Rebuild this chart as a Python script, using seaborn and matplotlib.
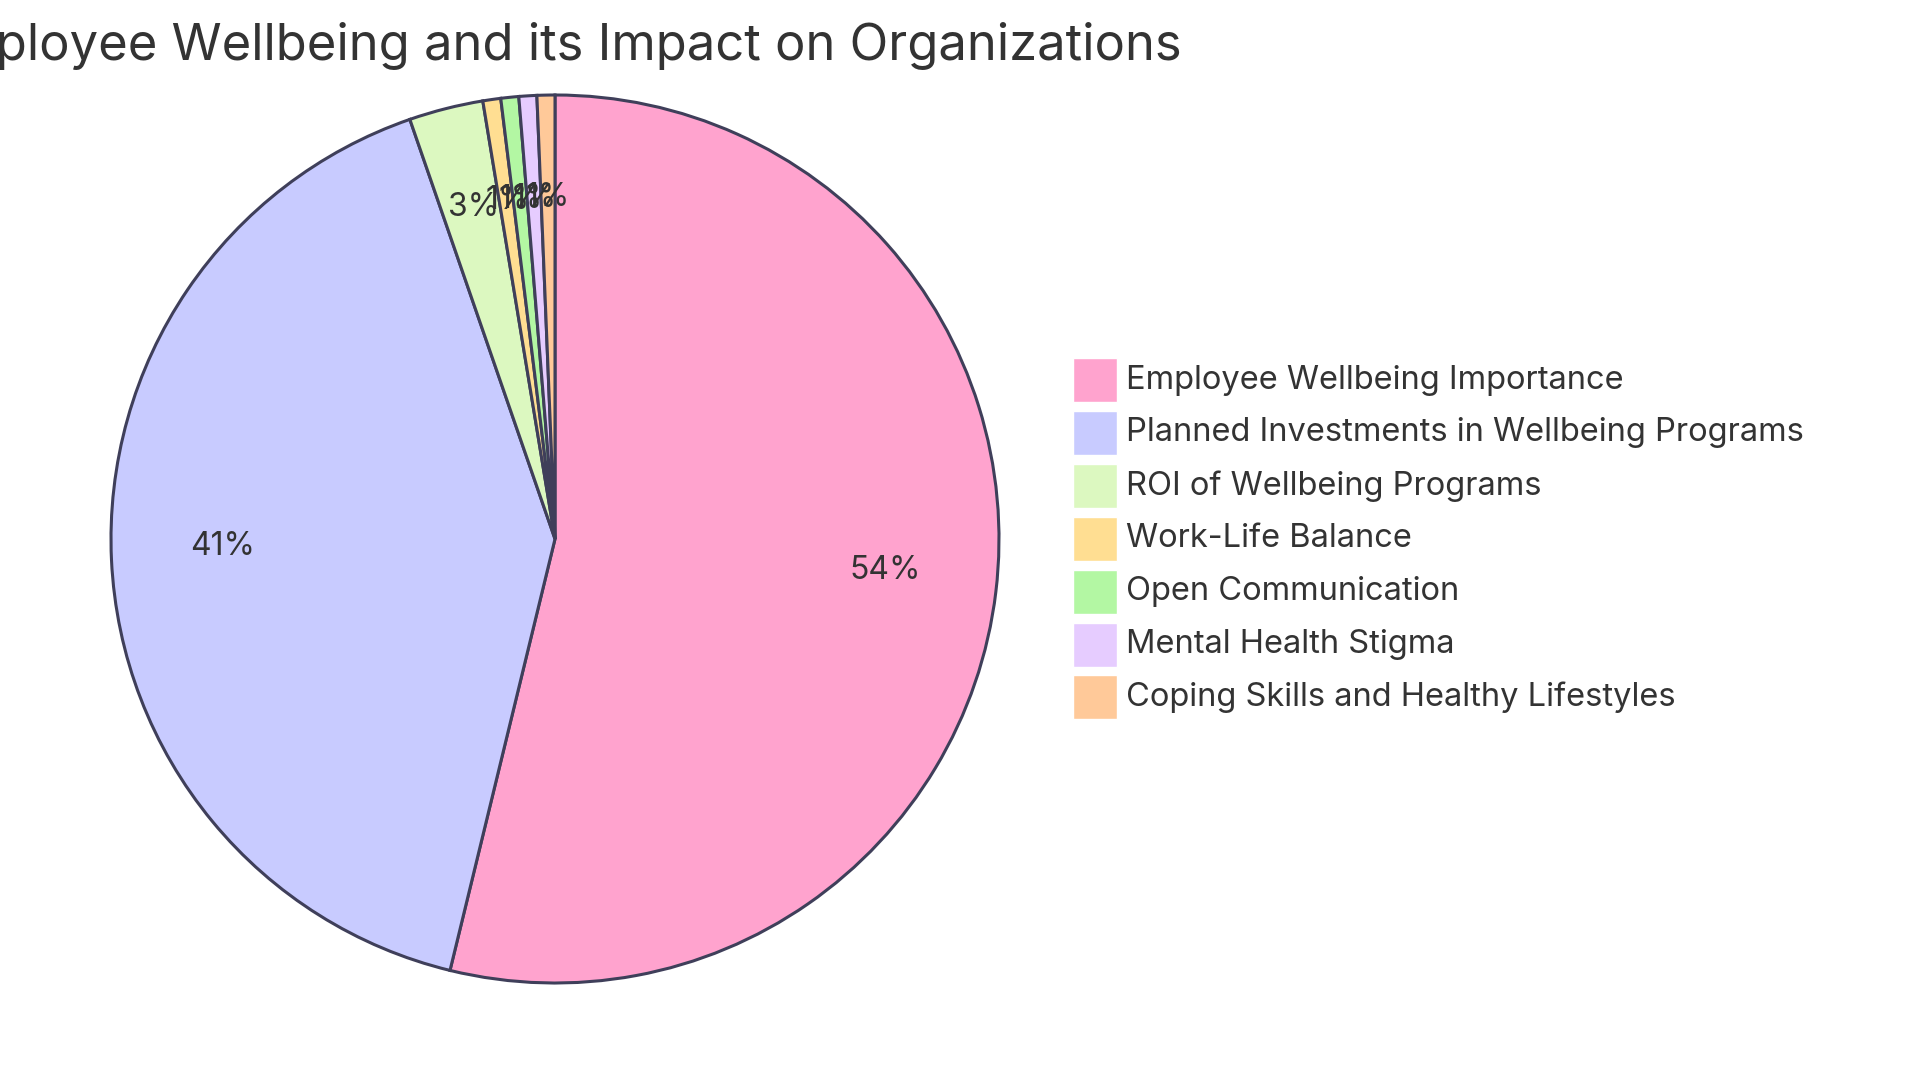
import matplotlib
matplotlib.use("Agg")
import matplotlib.pyplot as plt
import seaborn as sns
from matplotlib.patches import Rectangle

# Data (percent shares)
categories = [
    "Employee Wellbeing Importance",
    "Planned Investments in Wellbeing Programs",
    "ROI of Wellbeing Programs",
    "Work-Life Balance",
    "Open Communication",
    "Mental Health Stigma",
    "Coping Skills and Healthy Lifestyles",
]
shares = [53.8, 40.9, 2.7, 0.65, 0.65, 0.65, 0.65]
title = "Employee Wellbeing and its Impact on Organizations"

colors = sns.color_palette(["#FFA3CE", "#C8CBFF", "#DCF8C0", "#FFDE92",
                            "#B3F7A3", "#E6CCFF", "#FFC999"])
stroke = "#3F3F5A"
text_color = "#333333"

sns.set_theme(style="white")
plt.rcParams['font.family'] = ['Inter', 'DejaVu Sans']

W, H = 1920, 1080
fig = plt.figure(figsize=(19.2, 10.8), dpi=100)
fig.patch.set_facecolor("white")

# Pie axes: centre ~ (555, 539) px, radius ~444 px
ax = fig.add_axes([111 / W, 97 / H, 888 / W, 888 / H])
wedges, texts, autotexts = ax.pie(
    shares, colors=colors, startangle=90, counterclock=False,
    autopct=lambda p: f"{p:.0f}%", pctdistance=0.75,
    wedgeprops=dict(edgecolor=stroke, linewidth=2.2),
    textprops=dict(fontsize=23, color=text_color),
)
for t in autotexts:
    t.set_va("baseline")
ax.set_xlim(-1, 1)
ax.set_ylim(-1, 1)
ax.set_aspect("equal")
ax.axis("off")

# Title, clipped at the left edge like the reference
fig.text(1182 / W, 1 - 46 / H, title, ha="right", va="center",
         fontsize=36.5, color=text_color)

# Legend: coloured squares with labels, one row per category
row0, pitch, box = 380, 52.9, 44
for i, (cat, col) in enumerate(zip(categories, colors)):
    yc = row0 + i * pitch
    fig.add_artist(Rectangle((1073 / W, 1 - (yc + box / 2) / H), box / W, box / H,
                             transform=fig.transFigure, facecolor=col,
                             edgecolor="white", linewidth=1))
    fig.text(1126 / W, 1 - yc / H, cat, ha="left", va="center",
             fontsize=23.5, color=text_color)

fig.savefig("out.png", dpi=100, facecolor="white")
